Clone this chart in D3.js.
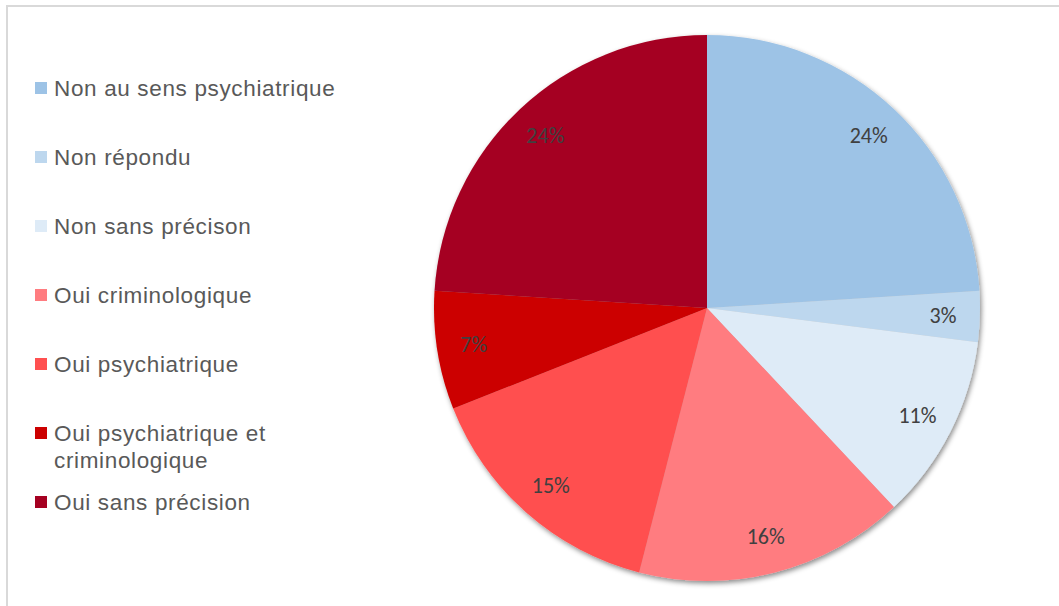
<!DOCTYPE html>
<html>
<head>
<meta charset="utf-8">
<script src="https://cdn.jsdelivr.net/npm/d3@7/dist/d3.min.js"></script>
<style>
  html, body { margin: 0; padding: 0; background: #fff; }
  svg { display: block; }
</style>
</head>
<body>
<svg id="chart" width="1059" height="606"></svg>
<script>
// Categories, shares (%) and slice colours
const categories = [
  "Non au sens psychiatrique",
  "Non répondu",
  "Non sans précison",
  "Oui criminologique",
  "Oui psychiatrique",
  "Oui psychiatrique et criminologique",
  "Oui sans précision"
];
const values = [24, 3, 11, 16, 15, 7, 24];
const colors = ["#9DC3E6", "#BDD7EE", "#DEEBF7", "#FF7C80", "#FF5050", "#CC0000", "#A50021"];

const svg = d3.select("#chart");
const W = 1059, H = 606;

// chart frame
svg.append("rect")
  .attr("x", 7).attr("y", 6)
  .attr("width", W + 20).attr("height", H + 20)
  .attr("fill", "#fff")
  .attr("stroke", "#d9d9d9").attr("stroke-width", 2);

// soft drop shadow under the pie
const defs = svg.append("defs");
const f = defs.append("filter").attr("id", "pieShadow")
  .attr("x", "-10%").attr("y", "-10%").attr("width", "120%").attr("height", "120%");
f.append("feDropShadow")
  .attr("dx", 1.5).attr("dy", 2.5).attr("stdDeviation", 2.5)
  .attr("flood-color", "#000").attr("flood-opacity", 0.45);

const cx = 707, cy = 308, R = 273;
const data = categories.map((c, i) => ({ name: c, value: values[i], color: colors[i] }));

const pie = d3.pie().value(d => d.value).sort(null);
const arcs = pie(data);
const arc = d3.arc().innerRadius(0).outerRadius(R);
const labelArc = d3.arc().innerRadius(R * 0.865).outerRadius(R * 0.865);

const g = svg.append("g").attr("transform", `translate(${cx},${cy})`);
g.append("g").attr("filter", "url(#pieShadow)")
  .selectAll("path")
  .data(arcs)
  .join("path")
  .attr("d", arc)
  .attr("fill", d => d.data.color);

g.append("g")
  .selectAll("text")
  .data(arcs)
  .join("text")
  .attr("transform", d => `translate(${labelArc.centroid(d)})`)
  .attr("text-anchor", "middle")
  .attr("dominant-baseline", "central")
  .attr("font-family", "Carlito, Lato, 'Open Sans', sans-serif")
  .attr("font-size", 22)
  .attr("fill", "#404040")
  .text(d => d.data.value + "%");

// legend
const legend = svg.append("g");
const rowY = [88, 157, 226, 295, 364, 433, 502];
const maxTextWidth = 300;

data.forEach((d, i) => {
  const row = legend.append("g").attr("transform", `translate(0,${rowY[i]})`);
  row.append("rect")
    .attr("x", 35).attr("y", -6)
    .attr("width", 12).attr("height", 12)
    .attr("fill", d.color);
  const t = row.append("text")
    .attr("x", 54).attr("y", 8)
    .attr("font-family", "'Liberation Sans', Arial, sans-serif")
    .attr("font-size", 22.5)
    .attr("letter-spacing", 0.65)
    .attr("fill", "#595959");
  // wrap long labels onto several lines
  const words = d.name.split(" ");
  let line = [];
  let tspan = t.append("tspan").attr("x", 54).attr("dy", 0);
  words.forEach(w => {
    line.push(w);
    tspan.text(line.join(" "));
    if (tspan.node().getComputedTextLength() > maxTextWidth && line.length > 1) {
      line.pop();
      tspan.text(line.join(" "));
      line = [w];
      tspan = t.append("tspan").attr("x", 54).attr("dy", 27).text(w);
    }
  });
});
</script>
</body>
</html>
